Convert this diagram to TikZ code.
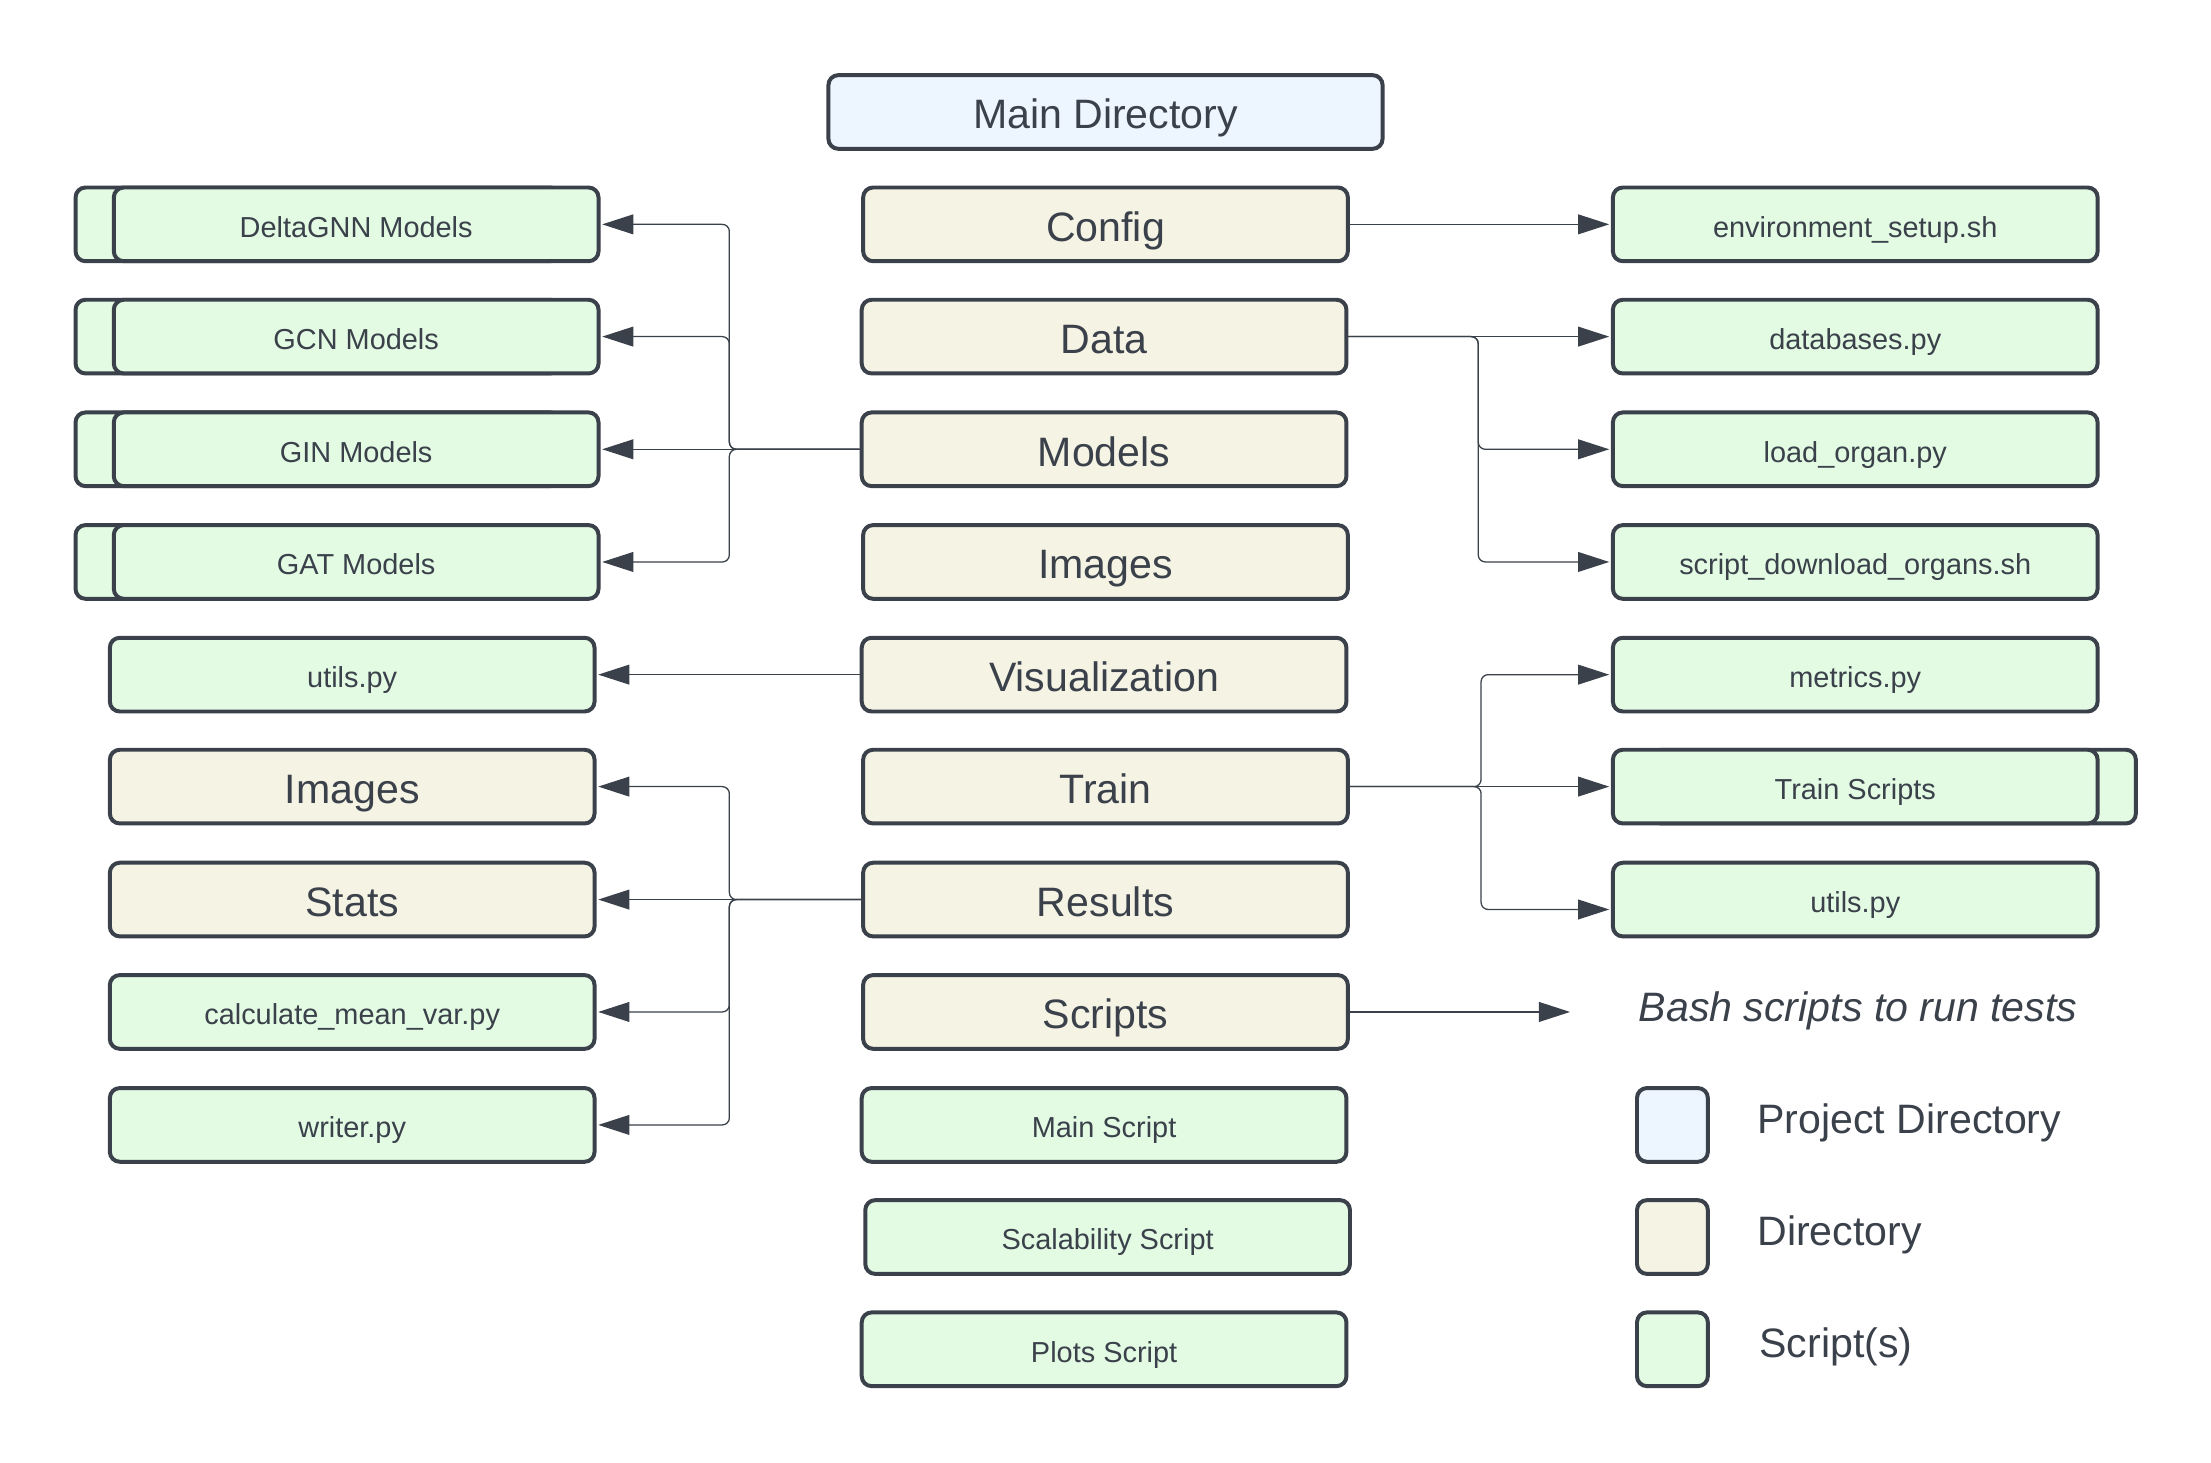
\documentclass[tikz,border=0pt]{standalone}
\usepackage{fontspec}
\setmainfont{Liberation Sans}
\usepackage{tikz}
\usetikzlibrary{arrows.meta}
\definecolor{inkgray}{HTML}{3A414A}
\definecolor{projblue}{HTML}{EDF5FF}
\definecolor{dircream}{HTML}{F5F3E4}
\definecolor{scriptgreen}{HTML}{E3FAE3}
\tikzset{>={Triangle[length=11pt,width=7pt]}}
\tikzset{
    basebox/.style={rectangle,draw=inkgray,line width=1.4pt,rounded corners=3.5pt,minimum width=171pt,minimum height=26pt,inner sep=0pt,text=inkgray,text height=1em,text depth=0.1em},
    projbox/.style={basebox,fill=projblue,font=\fontsize{14.5}{17}\selectfont,text height=1.28em},
    dirbox/.style={basebox,fill=dircream,font=\fontsize{14.5}{17}\selectfont,text height=1.28em},
    scriptbox/.style={basebox,fill=scriptgreen,font=\fontsize{10.2}{12}\selectfont},
    swatch/.style={basebox,minimum width=25pt},
    legendtext/.style={anchor=west,inner sep=0pt,text=inkgray,font=\fontsize{14.5}{17}\selectfont,text height=1em,text depth=0.1em},
    link/.style={draw=inkgray,line width=0.45pt,rounded corners=2.5pt,shorten >=0.6pt,->},
}

\begin{document}
\begin{tikzpicture}[x=0.5pt,y=-0.5pt]
	\useasboundingbox (0,0) rectangle (1560,1032);

	% main column
	\node[projbox,minimum width=195.5pt] (maindir) at (780,79) {Main Directory};
	\node[dirbox] (config) at (780,158.3) {Config};
	\node[dirbox] (data) at (779,237.5) {Data};
	\node[dirbox] (models) at (779,317) {Models};
	\node[dirbox] (images) at (780,396.5) {Images};
	\node[dirbox] (visualization) at (779,476) {Visualization};
	\node[dirbox] (train) at (780,555) {Train};
	\node[dirbox] (results) at (780,634.7) {Results};
	\node[dirbox] (scripts) at (780,714) {Scripts};
	\node[scriptbox] (mainscript) at (779,793.7) {Main Script};
	\node[scriptbox] (scalability) at (781.5,872.8) {Scalability Script};
	\node[scriptbox] (plots) at (779,952) {Plots Script};

	% left column
	\node[scriptbox] (deltagnnback) at (224.3,158.3) {};
	\node[scriptbox] (deltagnn) at (251.3,158.3) {DeltaGNN Models};
	\node[scriptbox] (gcnback) at (224.3,237.5) {};
	\node[scriptbox] (gcn) at (251.3,237.5) {GCN Models};
	\node[scriptbox] (ginback) at (224.3,317) {};
	\node[scriptbox] (gin) at (251.3,317) {GIN Models};
	\node[scriptbox] (gatback) at (224.3,396.5) {};
	\node[scriptbox] (gat) at (251.3,396.5) {GAT Models};
	\node[scriptbox] (visutils) at (248.5,476) {utils.py};
	\node[dirbox] (resimages) at (248.5,555) {Images};
	\node[dirbox] (stats) at (248.5,634.7) {Stats};
	\node[scriptbox] (meanvar) at (248.5,714) {calculate\_mean\_var.py};
	\node[scriptbox] (writer) at (248.5,793.7) {writer.py};

	% right column
	\node[scriptbox] (envsetup) at (1309,158.3) {environment\_setup.sh};
	\node[scriptbox] (databases) at (1309,237.5) {databases.py};
	\node[scriptbox] (loadorgan) at (1309,317) {load\_organ.py};
	\node[scriptbox] (download) at (1309,396.5) {script\_download\_organs.sh};
	\node[scriptbox] (metrics) at (1309,476) {metrics.py};
	\node[scriptbox] (trainscriptsback) at (1336,555) {};
	\node[scriptbox] (trainscripts) at (1309,555) {Train Scripts};
	\node[scriptbox] (trainutils) at (1309,634.7) {utils.py};
	\node[legendtext,anchor=center,font=\fontsize{14.5}{17}\selectfont\itshape] (bash) at (1311,711.5) {Bash scripts to run tests};

	% legend
	\node[swatch,fill=projblue] (legproj) at (1180,793.7) {};
	\node[swatch,fill=dircream] (legdir) at (1180,872.8) {};
	\node[swatch,fill=scriptgreen] (legscript) at (1180,952) {};
	\node[legendtext] (legprojtext) at (1239.6,790.5) {Project Directory};
	\node[legendtext] (legdirtext) at (1239.6,869.6) {Directory};
	\node[legendtext] (legscripttext) at (1241,949) {Script(s)};

	\coordinate (lefttrunk) at (514.6,0);
	\coordinate (datatrunk) at (1043,0);
	\coordinate (traintrunk) at (1045,0);
	\coordinate (bashend) at (1109,714);

	\draw[link] (models.west) -- (models.west -| lefttrunk) |- (deltagnn.east);
	\draw[link] (models.west) -- (models.west -| lefttrunk) |- (gcn.east);
	\draw[link] (models.west) -- (gin.east);
	\draw[link] (models.west) -- (models.west -| lefttrunk) |- (gat.east);
	\draw[link] (visualization.west) -- (visutils.east);
	\draw[link] (results.west) -- (results.west -| lefttrunk) |- (resimages.east);
	\draw[link] (results.west) -- (stats.east);
	\draw[link] (results.west) -- (results.west -| lefttrunk) |- (meanvar.east);
	\draw[link] (results.west) -- (results.west -| lefttrunk) |- (writer.east);

	\draw[link] (config.east) -- (envsetup.west);
	\draw[link] (data.east) -- (databases.west);
	\draw[link] (data.east) -- (data.east -| datatrunk) |- (loadorgan.west);
	\draw[link] (data.east) -- (data.east -| datatrunk) |- (download.west);
	\draw[link] (train.east) -- (train.east -| traintrunk) |- (metrics.west);
	\draw[link] (train.east) -- (trainscripts.west);
	\draw[link] (train.east) -- (train.east -| traintrunk) |- ([yshift=-3.5pt]trainutils.west);
	\draw[link] (scripts.east) -- (bashend);
\end{tikzpicture}
\end{document}
